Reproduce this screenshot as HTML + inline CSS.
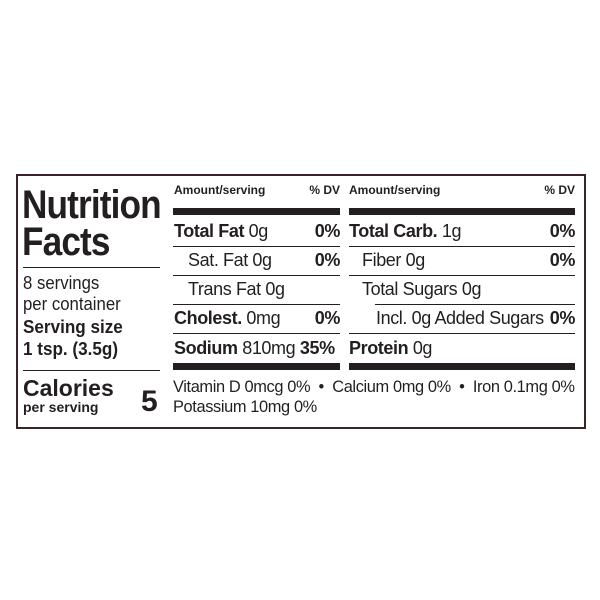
<!DOCTYPE html>
<html><head><style>
body{margin:0;width:600px;height:600px;background:#fff;position:relative;font-family:"Liberation Sans",sans-serif;color:#231f20;overflow:hidden}
.box{position:absolute;left:16px;top:174px;width:566px;height:251px;border:2px solid #3b2426;background:#fff}
.t{position:absolute;white-space:nowrap;line-height:1}
.b{font-weight:bold}
.r{position:absolute;background:#231f20}
.n{font-size:18px;letter-spacing:-0.4px}
.h{font-size:12px;font-weight:bold}
.L{right:260px}
.R{right:25px}
</style></head><body>
<div class="box"></div>
<div class="t b" style="left:22px;top:185px;font-size:40px;letter-spacing:-1px;transform:scaleX(0.88);transform-origin:left">Nutrition</div>
<div class="t b" style="left:22px;top:222px;font-size:40px;letter-spacing:-1px;transform:scaleX(0.88);transform-origin:left">Facts</div>
<div class="r" style="left:23px;top:267px;width:137px;height:1px"></div>
<div class="t" style="left:23px;top:274px;font-size:18px;transform:scaleX(0.93);transform-origin:left">8 servings</div>
<div class="t" style="left:23px;top:295px;font-size:18px;transform:scaleX(0.93);transform-origin:left">per container</div>
<div class="t b" style="left:23px;top:318px;font-size:18px;transform:scaleX(0.95);transform-origin:left">Serving size</div>
<div class="t b" style="left:23px;top:340px;font-size:18px;transform:scaleX(0.95);transform-origin:left">1 tsp. (3.5g)</div>
<div class="r" style="left:23px;top:370px;width:137px;height:1px"></div>
<div class="t b" style="left:23px;top:377px;font-size:23px">Calories</div>
<div class="t b" style="left:23px;top:400px;font-size:14px">per serving</div>
<div class="t b" style="left:141px;top:387px;font-size:30px">5</div>

<div class="t h" style="left:174px;top:184px">Amount/serving</div>
<div class="t h L" style="top:184px">% DV</div>
<div class="t h" style="left:349px;top:184px">Amount/serving</div>
<div class="t h R" style="top:184px">% DV</div>
<div class="r" style="left:173px;top:208px;width:167px;height:7px"></div>
<div class="r" style="left:349px;top:208px;width:226px;height:7px"></div>

<div class="t n" style="left:174px;top:222px"><b>Total Fat</b> 0g</div>
<div class="t n b L" style="top:222px">0%</div>
<div class="r" style="left:173px;top:246px;width:167px;height:1px"></div>
<div class="t n" style="left:188px;top:251px">Sat. Fat 0g</div>
<div class="t n b L" style="top:251px">0%</div>
<div class="r" style="left:173px;top:275px;width:167px;height:1px"></div>
<div class="t n" style="left:188px;top:280px">Trans Fat 0g</div>
<div class="r" style="left:173px;top:304px;width:167px;height:1px"></div>
<div class="t n" style="left:174px;top:309px"><b>Cholest.</b> 0mg</div>
<div class="t n b L" style="top:309px">0%</div>
<div class="r" style="left:173px;top:333px;width:167px;height:1px"></div>
<div class="t n" style="left:174px;top:339px"><b>Sodium</b> 810mg <b>35%</b></div>

<div class="t n" style="left:349px;top:222px"><b>Total Carb.</b> 1g</div>
<div class="t n b R" style="top:222px">0%</div>
<div class="r" style="left:349px;top:246px;width:226px;height:1px"></div>
<div class="t n" style="left:362px;top:251px">Fiber 0g</div>
<div class="t n b R" style="top:251px">0%</div>
<div class="r" style="left:349px;top:275px;width:226px;height:1px"></div>
<div class="t n" style="left:362px;top:280px">Total Sugars 0g</div>
<div class="r" style="left:375px;top:304px;width:200px;height:1px"></div>
<div class="t n" style="left:376px;top:309px">Incl. 0g Added Sugars</div>
<div class="t n b R" style="top:309px">0%</div>
<div class="r" style="left:349px;top:333px;width:226px;height:1px"></div>
<div class="t n" style="left:349px;top:339px"><b>Protein</b> 0g</div>

<div class="r" style="left:173px;top:363px;width:167px;height:7px"></div>
<div class="r" style="left:349px;top:363px;width:226px;height:7px"></div>
<div class="t" style="left:173px;top:378px;font-size:17px;letter-spacing:-0.4px;transform:scaleX(0.965);transform-origin:left">Vitamin D 0mcg 0% &nbsp;•&nbsp; Calcium 0mg 0% &nbsp;•&nbsp; Iron 0.1mg 0%</div>
<div class="t" style="left:173px;top:398px;font-size:17px;letter-spacing:-0.4px;transform:scaleX(0.965);transform-origin:left">Potassium 10mg 0%</div>
</body></html>
